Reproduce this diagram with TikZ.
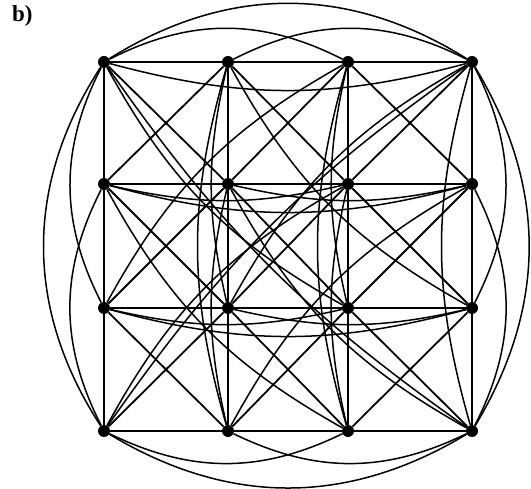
\documentclass[tikz,border=0pt]{standalone}
\usepackage{fontspec}
\setmainfont{Liberation Serif}
\begin{document}
\begin{tikzpicture}[x=1pt,y=-1pt,
  dot/.style={circle,fill=black,inner sep=0pt,minimum size=12pt},
  edge/.style={line width=1.8pt,black},
  arc/.style={line width=1.5pt,black},
  lbl/.style={font=\bfseries\fontsize{23}{25}\selectfont,inner sep=0pt,anchor=north west}]
\useasboundingbox (0,0) rectangle (531,489);
\node[lbl] (label) at (12,5) {b)};
% nodes n<col><row>
\foreach \c/\x in {0/104,1/228,2/348,3/472}
  \foreach \r/\y in {0/62,1/184,2/308,3/431}
    \node[dot] (n\c\r) at (\x,\y) {};
\begin{scope}[edge]
% rows and columns straight
\foreach \r in {0,1,2,3} {
  \draw (n0\r) -- (n1\r) -- (n2\r) -- (n3\r);
  \draw (n\r0) -- (n\r1) -- (n\r2) -- (n\r3);
}
% cell diagonals
\foreach \c/\cc in {0/1,1/2,2/3}
  \foreach \r/\rr in {0/1,1/2,2/3} {
    \draw (n\c\r) -- (n\cc\rr);
    \draw (n\cc\r) -- (n\c\rr);
  }
\end{scope}
\begin{scope}[arc]
% row arcs
\draw (n00) to[bend left=32] (n30);
\draw (n00) to[bend left=27] (n20);
\draw (n10) to[bend left=27] (n30);
\draw (n03) to[bend right=31] (n33);
\draw (n03) to[bend right=26] (n23);
\draw (n13) to[bend right=26] (n33);
\foreach \r in {0,1,2}
  \draw (n0\r) to[bend right=15] (n3\r);
\foreach \r in {1,2} {
  \draw (n0\r) to[bend right=13] (n2\r);
  \draw (n1\r) to[bend right=13] (n3\r);
}
% column arcs
\draw (n00) to[bend right=33] (n03);
\draw (n00) to[bend right=27] (n02);
\draw (n01) to[bend right=27] (n03);
\draw (n30) to[bend left=31] (n33);
\draw (n30) to[bend left=27] (n32);
\draw (n31) to[bend left=27] (n33);
\foreach \c in {1,2,3}
  \draw (n\c0) to[bend right=16] (n\c3);
\foreach \c in {1,2} {
  \draw (n\c0) to[bend right=13] (n\c2);
  \draw (n\c1) to[bend right=13] (n\c3);
}
% long diagonal edges, curved
\foreach \a/\b in {n00/n22,n11/n33,n10/n32,n01/n23,
                   n30/n12,n21/n03,n20/n02,n31/n13}
  \draw (\a) to[bend right=16] (\b);
\draw (n00) to[bend right=10] (n33);
\draw (n30) to[bend right=10] (n03);
\end{scope}
\end{tikzpicture}
\end{document}
